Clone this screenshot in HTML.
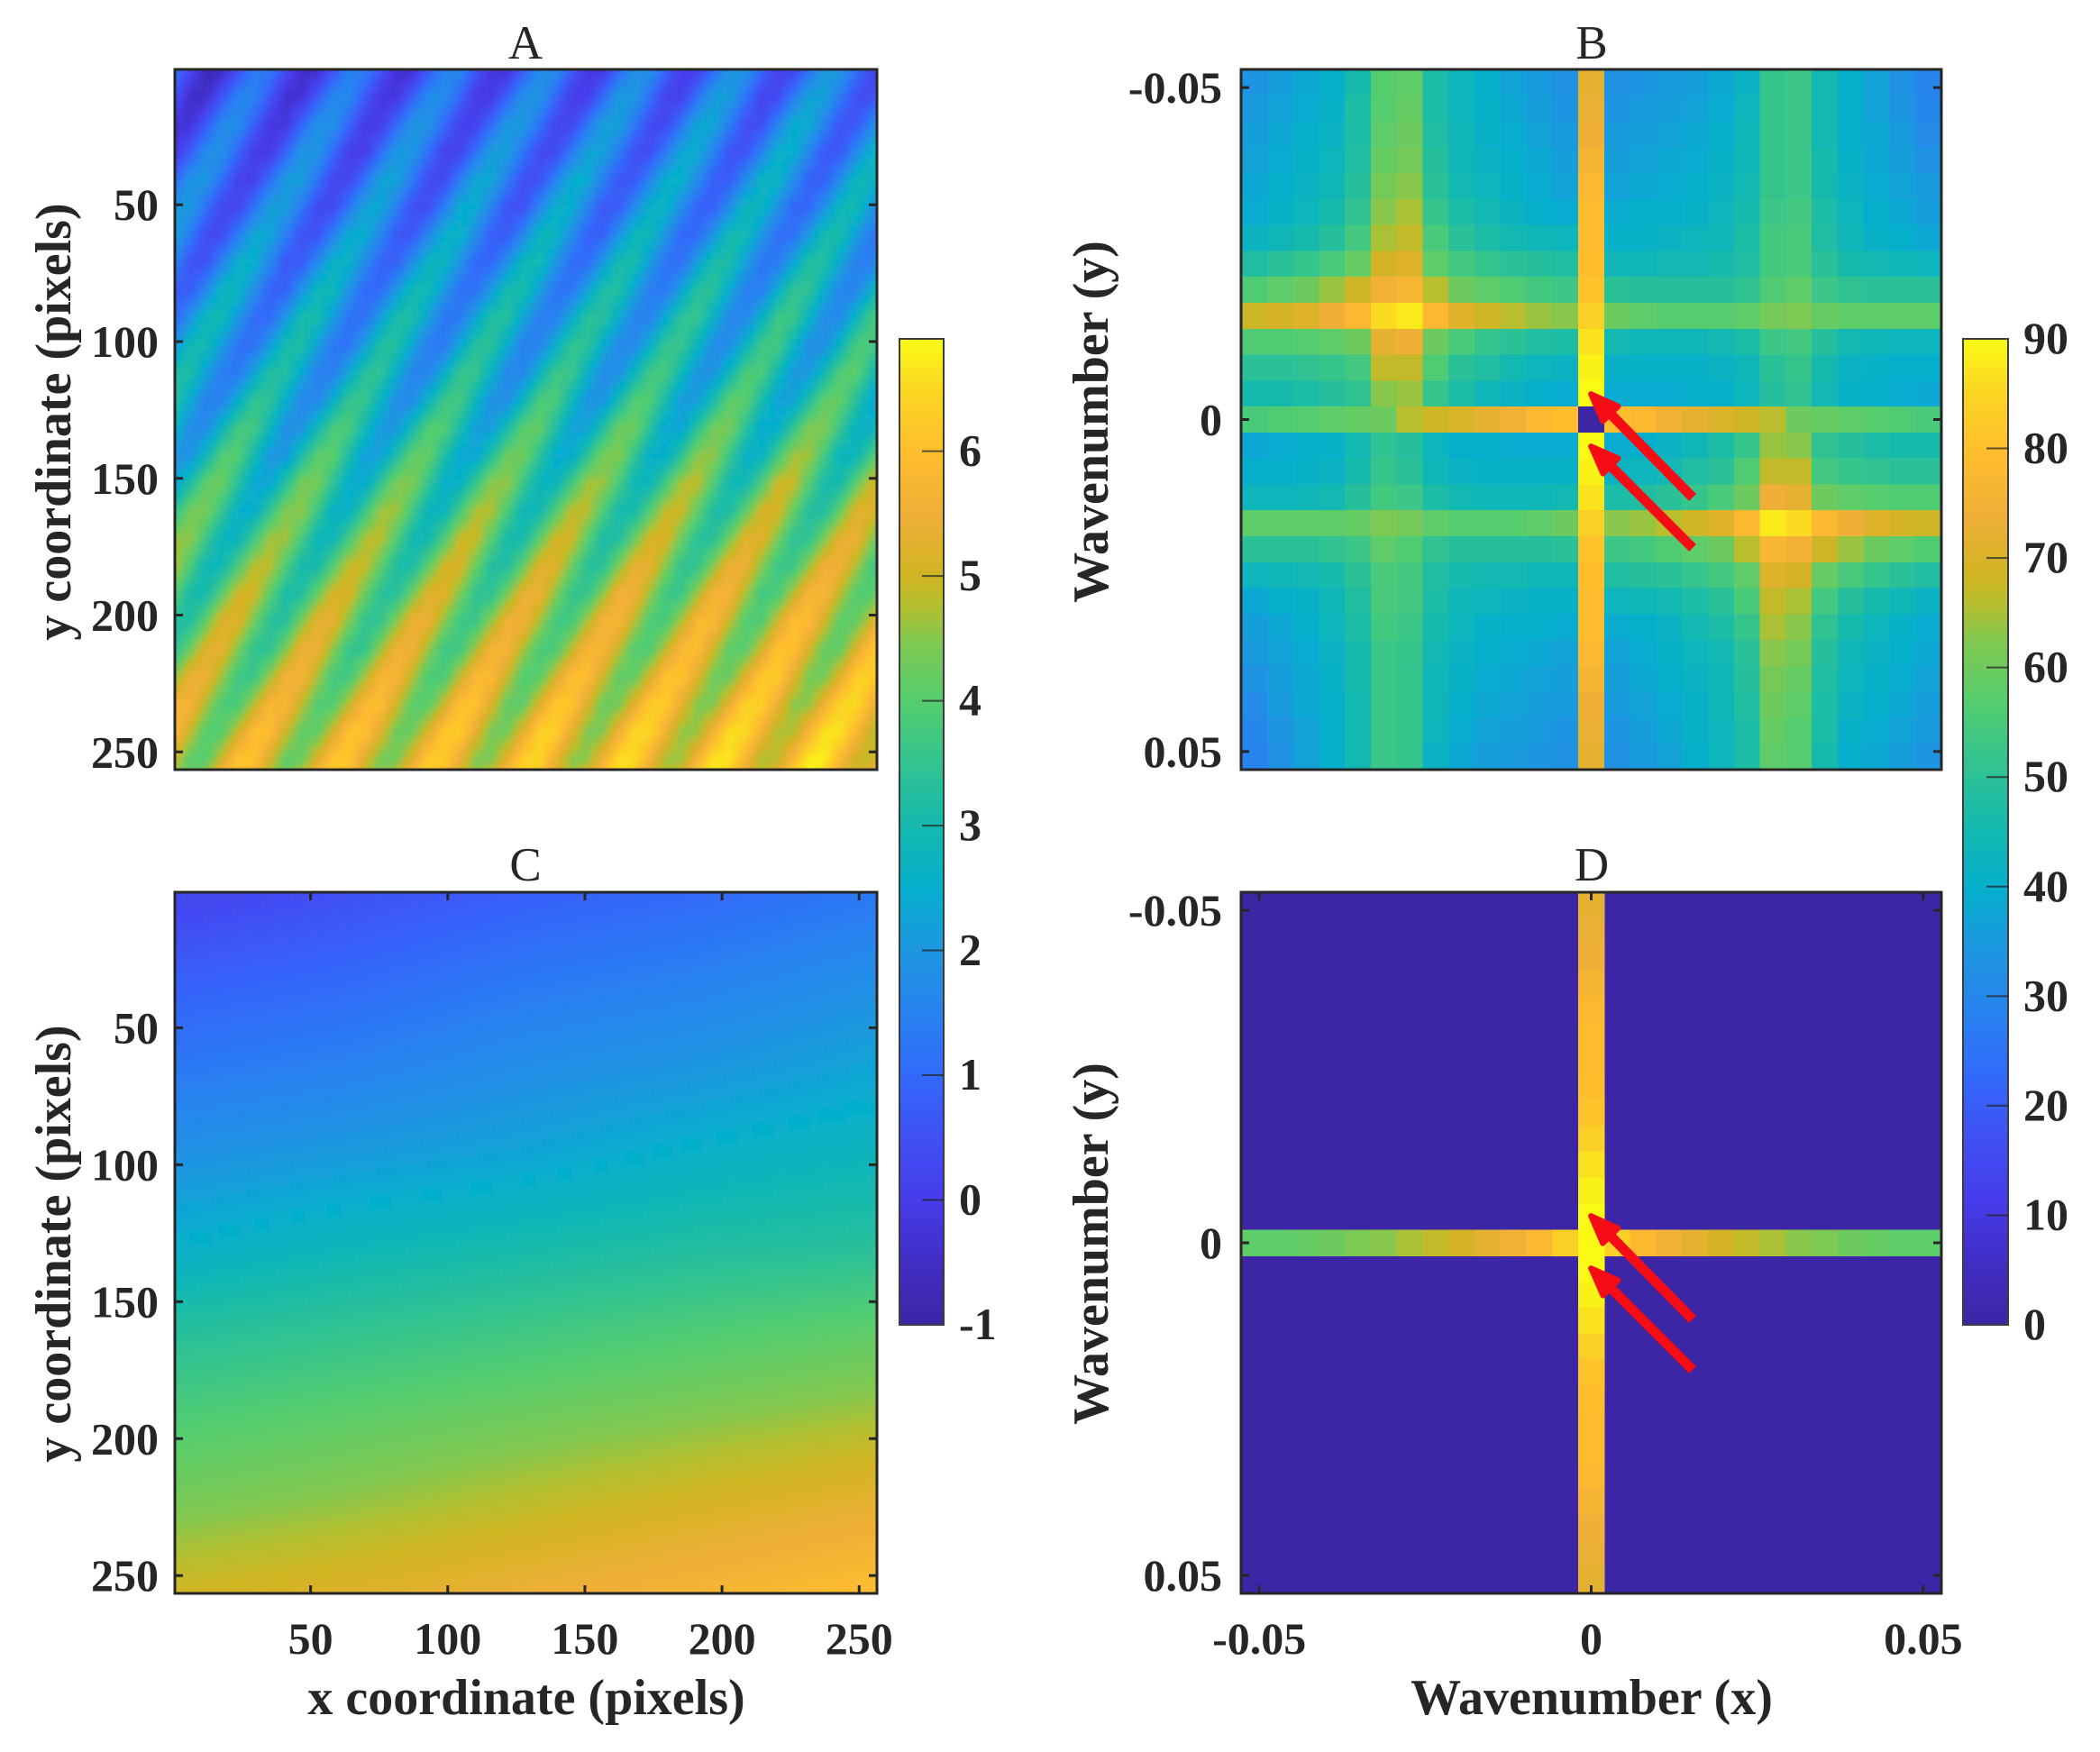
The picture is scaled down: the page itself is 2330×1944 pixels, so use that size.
<!DOCTYPE html>
<html lang="en">
<head>
<meta charset="utf-8">
<title>Spectral filtering heatmaps</title>
<style>
html,body{margin:0;padding:0;background:#fff;}
svg{display:block;}
text{font-family:"Liberation Serif",serif;fill:#262626;}
.tick{font-size:50px;font-weight:bold;}
.label{font-size:56px;font-weight:bold;}
.title{font-size:53px;font-weight:normal;text-anchor:middle;}
</style>
</head>
<body>
<svg id="figure" xmlns="http://www.w3.org/2000/svg" width="2330" height="1944" viewBox="0 0 2330 1944">
  <defs>
    <filter id="softA" filterUnits="userSpaceOnUse" x="0" y="0" width="2330" height="1944"><feGaussianBlur stdDeviation="3"/></filter>
    <filter id="softC" filterUnits="userSpaceOnUse" x="0" y="0" width="2330" height="1944"><feGaussianBlur stdDeviation="6"/></filter>
    <clipPath id="clipA"><rect x="194" y="77" width="779" height="777"/></clipPath>
    <clipPath id="clipC"><rect x="194" y="990" width="779" height="778"/></clipPath>
  </defs>
  <rect width="2330" height="1944" fill="#fff"/>
  <g id="panelA"></g>
  <g id="panelB"></g>
  <g id="panelC"></g>
  <g id="panelD"></g>
  <g id="colorbarLeft"></g>
  <g id="colorbarRight"></g>
  <g id="tickLayer"></g>
  <text class="title" x="583" y="65">A</text>
  <text class="title" x="1766" y="65">B</text>
  <text class="title" x="583" y="977">C</text>
  <text class="title" x="1766" y="977">D</text>
  <text class="label" text-anchor="middle" transform="translate(78,468) rotate(-90)">y coordinate (pixels)</text>
  <text class="label" text-anchor="middle" transform="translate(78,1380) rotate(-90)">y coordinate (pixels)</text>
  <text class="label" text-anchor="middle" transform="translate(1229,468) rotate(-90)">Wavenumber (y)</text>
  <text class="label" text-anchor="middle" transform="translate(1229,1380) rotate(-90)">Wavenumber (y)</text>
  <text class="label" text-anchor="middle" x="584" y="1902">x coordinate (pixels)</text>
  <text class="label" text-anchor="middle" x="1766" y="1902">Wavenumber (x)</text>
</svg>
<script>
// Panel A: sampled field, in tenths of a unit; rows step aRowStep image pixels, columns aColStep.
const aRowStep = 10.09;
const aColStep = 5.78;
const aTenths = [
[13,3,-7,-6,4,14,14,4,-5,-5,5,15,15,6,-4,-4,6,16,17,7,-3,-3,7,18,18,8,-2,-2,9,19,19,9,-1,0,10,20,20,10,1,1,11,21,21,12,2,2],
[5,-5,-5,6,16,16,6,-4,-3,7,17,17,7,-2,-2,8,18,18,9,-1,-1,9,19,20,10,0,0,10,21,21,11,1,1,12,22,22,12,2,3,13,23,23,13,4,4,14],
[-3,-3,7,18,18,8,-2,-2,9,19,19,9,-1,0,10,20,20,10,1,1,11,21,21,12,2,2,12,22,23,13,3,3,13,24,24,14,4,4,15,25,25,15,5,6,16,26],
[-2,8,18,19,9,-1,-1,9,20,20,10,0,0,11,21,21,11,1,2,12,22,22,12,3,3,13,23,23,14,4,4,14,24,25,15,5,5,15,26,26,16,6,6,17,27,27],
[10,20,20,11,1,1,11,21,22,12,2,2,12,23,23,13,3,3,14,24,24,14,4,5,15,25,25,15,6,6,16,26,26,17,7,7,17,27,28,18,8,8,18,29,29,19],
[21,21,11,2,2,12,22,22,13,3,3,13,23,24,14,4,4,14,25,25,15,5,5,16,26,26,16,6,7,17,27,27,17,8,8,18,28,28,19,9,9,19,29,30,20,10],
[23,13,3,4,14,24,24,14,5,5,15,25,25,16,6,6,16,26,27,17,7,7,17,28,28,18,8,8,19,29,29,19,9,10,20,30,30,20,11,11,21,31,31,22,12,12],
[15,5,5,16,26,26,16,6,7,17,27,27,17,8,8,18,28,28,19,9,9,19,29,30,20,10,10,20,31,31,21,11,11,22,32,32,22,12,13,23,33,33,23,14,14,24],
[7,7,17,28,28,18,8,8,19,29,29,19,9,10,20,30,30,20,11,11,21,31,31,22,12,12,22,32,33,23,13,13,23,34,34,24,14,14,25,35,35,25,15,16,26,36],
[9,19,29,30,20,10,10,20,31,31,21,11,11,22,32,32,22,12,13,23,33,33,23,14,14,24,34,34,25,15,15,25,35,36,26,16,16,26,37,37,27,17,17,28,38,38],
[20,30,30,21,11,11,21,31,32,22,12,12,22,33,33,23,13,13,24,34,34,24,14,15,25,35,35,25,16,16,26,36,36,27,17,17,27,37,38,28,18,18,28,39,39,29],
[32,32,22,13,13,23,33,33,24,14,14,24,34,35,25,15,15,25,36,36,26,16,16,27,37,37,27,17,18,28,38,38,28,19,19,29,39,39,30,20,20,30,40,41,31,21],
[34,24,14,15,25,35,35,25,16,16,26,36,36,27,17,17,27,37,38,28,18,18,28,39,39,29,19,19,30,40,40,30,20,21,31,41,41,31,22,22,32,42,42,33,23,23],
[27,17,17,28,38,38,28,18,19,29,39,39,29,20,20,30,40,40,31,21,21,31,41,42,32,22,22,32,43,43,33,23,23,34,44,44,34,24,25,35,45,45,35,26,26,36],
[19,19,29,40,40,30,20,20,31,41,41,31,21,22,32,42,42,32,23,23,33,43,43,34,24,24,34,44,45,35,25,25,35,46,46,36,26,26,37,47,47,37,27,28,38,48],
[22,32,42,43,33,23,23,33,44,44,34,24,24,35,45,45,35,25,26,36,46,46,36,27,27,37,47,47,38,28,28,38,48,49,39,29,29,39,50,50,40,30,30,41,51,51],
[34,44,44,35,25,25,35,45,46,36,26,26,36,47,47,37,27,27,38,48,48,38,28,29,39,49,49,39,30,30,40,50,50,41,31,31,41,51,52,42,32,32,42,53,53,43],
[46,46,36,27,27,37,47,47,38,28,28,38,48,49,39,29,29,39,50,50,40,30,30,41,51,51,41,31,32,42,52,52,42,33,33,43,53,53,44,34,34,44,54,55,45,35],
[48,38,28,29,39,49,49,39,30,30,40,50,50,41,31,31,41,51,52,42,32,32,42,53,53,43,33,33,44,54,54,44,34,35,45,55,55,45,36,36,46,56,56,47,37,37],
[40,30,30,41,51,51,41,31,32,42,52,52,42,33,33,43,53,53,44,34,34,44,54,55,45,35,35,45,56,56,46,36,36,47,57,57,47,37,38,48,58,58,48,39,39,49],
[32,32,42,53,53,43,33,33,44,54,54,44,34,35,45,55,55,45,36,36,46,56,56,47,37,37,47,57,58,48,38,38,48,59,59,49,39,39,50,60,60,50,40,41,51,61],
[33,43,53,54,44,34,34,44,55,55,45,35,35,46,56,56,46,36,37,47,57,57,47,38,38,48,58,58,49,39,39,49,59,60,50,40,40,50,61,61,51,41,41,52,62,62],
[45,55,55,46,36,36,46,56,57,47,37,37,47,58,58,48,38,38,49,59,59,49,39,40,50,60,60,50,41,41,51,61,61,52,42,42,52,62,63,53,43,43,53,64,64,54],
[57,57,47,38,38,48,58,58,49,39,39,49,59,60,50,40,40,50,61,61,51,41,41,52,62,62,52,42,43,53,63,63,53,44,44,54,64,64,55,45,45,55,65,66,56,46],
[59,49,39,40,50,60,60,50,41,41,51,61,61,52,42,42,52,62,63,53,43,43,53,64,64,54,44,44,55,65,65,55,45,46,56,66,66,56,47,47,57,67,67,58,48,48],
[50,40,40,51,61,61,51,41,42,52,62,62,52,43,43,53,63,63,54,44,44,54,64,65,55,45,45,55,66,66,56,46,46,57,67,67,57,47,48,58,68,68,58,49,49,59],
[42,42,52,63,63,53,43,43,54,64,64,54,44,45,55,65,65,55,46,46,56,66,66,57,47,47,57,67,68,58,48,48,58,69,69,59,49,49,60,70,70,60,50,51,61,71]
];
// Panel C: sampled low-frequency field; rows and columns every cRowStep / cColStep image pixels.
const cRowStep = 32;
const cColStep = 64;
const cValues = [
[0.2,0.5,0.8,1.0,1.3],
[0.8,1.0,1.3,1.5,1.8],
[1.3,1.5,1.8,2.0,2.3],
[1.9,2.1,2.3,2.6,2.8],
[2.5,2.8,3.0,3.2,3.3],
[3.3,3.5,3.7,3.9,4.1],
[3.9,4.1,4.3,4.5,4.7],
[4.4,4.6,4.85,5.1,5.35],
[5.0,5.2,5.45,5.7,6.0]
];
// Panel B: 27 x 27 spectrum cells.
const bValues = [
[34,36,38,40,46,57,58,47,43,40,37,35,33,72,33,34,35,36,38,42,52,53,45,40,37,33,29],
[35,37,39,41,47,57,59,47,43,41,38,36,34,73,34,35,36,37,39,43,52,53,45,40,37,34,30],
[36,38,40,42,47,58,60,48,44,41,39,37,35,74,35,36,37,38,40,44,52,53,45,40,38,35,31],
[37,39,41,43,48,59,61,49,44,42,40,38,36,76,36,37,38,39,41,44,52,53,46,41,38,36,33],
[38,40,42,44,49,61,63,50,45,43,41,39,37,78,37,38,39,40,42,45,52,53,46,42,39,37,35],
[39,41,43,46,51,63,65,52,47,45,42,40,39,79,39,40,40,41,43,46,53,54,47,43,40,38,36],
[42,44,46,49,54,65,67,55,50,47,45,44,43,79,41,41,42,43,44,47,54,55,48,44,41,40,38],
[48,50,52,55,59,69,71,58,54,52,50,49,48,80,44,44,45,45,46,48,54,55,50,46,45,44,43],
[56,58,60,64,68,75,77,66,60,58,56,54,53,81,50,49,49,49,49,51,56,58,53,51,50,50,50],
[68,69,71,74,78,86,88,78,71,68,66,64,63,84,60,58,57,57,57,58,61,62,59,58,58,58,58],
[56,56,57,58,60,72,74,60,55,52,50,48,47,87,45,44,44,44,45,47,53,54,49,45,44,43,43],
[50,50,51,52,54,67,67,56,50,48,45,43,42,89,41,41,41,41,42,44,50,52,46,42,41,40,40],
[46,46,47,49,51,63,64,52,47,44,42,40,39,90,39,39,39,40,40,43,49,51,45,41,40,39,38],
[55,56,57,58,59,60,66,68,70,72,75,78,80,0,80,78,75,72,70,68,66,60,59,58,57,56,55],
[38,39,40,41,45,51,49,43,40,40,39,39,39,90,39,40,42,44,47,52,64,63,51,49,47,46,46],
[40,40,41,42,46,52,50,44,42,41,41,41,41,89,42,43,45,48,50,56,67,67,54,52,51,50,50],
[43,43,44,45,49,54,53,47,45,44,44,44,45,87,47,48,50,52,55,60,74,72,60,58,57,56,56],
[58,58,58,58,59,62,61,58,57,57,57,58,60,84,63,64,66,68,71,78,88,86,78,74,71,69,68],
[50,50,50,51,53,58,56,51,49,49,49,49,50,81,53,54,56,58,60,66,77,75,68,64,60,58,56],
[43,44,45,46,50,55,54,48,46,45,45,44,44,80,48,49,50,52,54,58,71,69,59,55,52,50,48],
[38,40,41,44,48,55,54,47,44,43,42,41,41,79,43,44,45,47,50,55,67,65,54,49,46,44,42],
[36,38,40,43,47,54,53,46,43,41,40,40,39,79,39,40,42,45,47,52,65,63,51,46,43,41,39],
[35,37,39,42,46,53,52,45,42,40,39,38,37,78,37,39,41,43,45,50,63,61,49,44,42,40,38],
[33,36,38,41,46,53,52,44,41,39,38,37,36,76,36,38,40,42,44,49,61,59,48,43,41,39,37],
[31,35,38,40,45,53,52,44,40,38,37,36,35,74,35,37,39,41,44,48,60,58,47,42,40,38,36],
[30,34,37,40,45,53,52,43,39,37,36,35,34,73,34,36,38,41,43,47,59,57,47,41,39,37,35],
[29,33,37,40,45,53,52,42,38,36,35,34,33,72,33,35,37,40,43,47,58,57,46,40,38,36,34]
];
// Panel D: only the central column and row survive the filter.
const dFloor = 0;
const dCenterColumn = [72,73,74,76,78,79,79,80,81,84,87,89,90,90,90,89,87,84,81,80,79,79,78,76,74,73,72];
const dCenterRow = [58,58,59,60,62,63,65,67,69,72,75,78,84,90,84,78,75,72,69,67,65,63,62,60,59,58,58];
// Ticks and colour scales.
const pixelTicks = [50,100,150,200,250];
const waveTicks = [-0.05,0,0.05];
const waveTickLabels = ["-0.05","0","0.05"];
const leftBarTicks = [-1,0,1,2,3,4,5,6];
const rightBarTicks = [0,10,20,30,40,50,60,70,80,90];
const leftRange = [-1,6.9];
const rightRange = [0,90];
const mapStops = [
[0,60,38,165],[0.063,65,45,195],[0.127,70,60,235],[0.19,65,80,245],[0.253,50,105,250],[0.316,40,130,240],
[0.38,30,150,225],[0.443,5,175,205],[0.506,20,185,175],[0.57,50,195,145],[0.633,85,205,110],[0.696,130,200,80],
[0.727,178,192,48],[0.76,208,180,35],[0.823,240,175,55],[0.886,255,190,45],[0.95,250,215,35],[1,250,250,20]
];

const NS = "http://www.w3.org/2000/svg";
const root = id => document.getElementById(id);
function make(tag, parent, props) {
  const el = document.createElementNS(NS, tag);
  for (const k in props) el.setAttribute(k, props[k]);
  parent.appendChild(el);
  return el;
}
function mapColor(t) {
  t = Math.max(0, Math.min(1, t));
  for (let i = 1; i < mapStops.length; i++) {
    if (t <= mapStops[i][0]) {
      const a = mapStops[i - 1], b = mapStops[i], f = (t - a[0]) / (b[0] - a[0]);
      return "rgb(" + [1, 2, 3].map(c => Math.round(a[c] + (b[c] - a[c]) * f)).join(",") + ")";
    }
  }
  return "rgb(250,250,20)";
}
const spatialColor = v => mapColor((v - leftRange[0]) / (leftRange[1] - leftRange[0]));
const spectralColor = v => mapColor((v - rightRange[0]) / (rightRange[1] - rightRange[0]));

const boxes = {
  A: {x: 194, y: 77, w: 779, h: 777},
  B: {x: 1377, y: 77, w: 777, h: 777},
  C: {x: 194, y: 990, w: 779, h: 778},
  D: {x: 1377, y: 990, w: 777, h: 778}
};
// Axis functions: image pixel coordinate range 0.5..256.5, wavenumber range +-13.5/256.
const pixelX = (b, v) => b.x + (v - 0.5) * b.w / 256;
const pixelY = (b, v) => b.y + (v - 0.5) * b.h / 256;
const waveSpan = 27 / 256;
const waveX = (b, v) => b.x + b.w / 2 + v * b.w / waveSpan;
const waveY = (b, v) => b.y + b.h / 2 + v * b.h / waveSpan;

function sampleGrid(grid, rowF, colF) {
  const r = Math.max(0, Math.min(grid.length - 1, rowF));
  const c = Math.max(0, Math.min(grid[0].length - 1, colF));
  const r0 = Math.floor(r), c0 = Math.floor(c);
  const r1 = Math.min(grid.length - 1, r0 + 1), c1 = Math.min(grid[0].length - 1, c0 + 1);
  const fr = r - r0, fc = c - c0;
  return (grid[r0][c0] * (1 - fc) + grid[r0][c1] * fc) * (1 - fr) + (grid[r1][c0] * (1 - fc) + grid[r1][c1] * fc) * fr;
}
function drawSmooth(parentId, box, grid, rowStep, colStep, scale, step, clipId, filterId, name) {
  const clip = make("g", root(parentId), {"clip-path": "url(#" + clipId + ")"});
  
  
  const soft = make("g", clip, {filter: "url(#" + filterId + ")", "shape-rendering": "crispEdges"});
  
  
  for (let py = -step * 3; py < box.h + step * 3; py += step) {
    for (let px = -step * 3; px < box.w + step * 3; px += step) {
      const imgX = (px + step / 2) * 256 / box.w;
      const imgY = (py + step / 2) * 256 / box.h;
      const v = sampleGrid(grid, imgY / rowStep, imgX / colStep) * scale;
      const cell = make("rect", soft, {x: pixelX(box, imgX + 0.5) - step / 2, y: pixelY(box, imgY + 0.5) - step / 2, width: step + 0.6, height: step + 0.6, fill: spatialColor(v)});
      
      
    }
  }
}
drawSmooth("panelA", boxes.A, aTenths, aRowStep, aColStep, 0.1, 6, "clipA", "softA", "panel-a");
drawSmooth("panelC", boxes.C, cValues, cRowStep, cColStep, 1, 8, "clipC", "softC", "panel-c");

function drawSpectrumCell(parent, box, row, col, value, name) {
  const binX = box.w / 27, binY = box.h / 27;
  const cell = make("rect", parent, {x: box.x + col * binX, y: box.y + row * binY, width: binX + 0.5, height: binY + 0.5, fill: spectralColor(value), "shape-rendering": "crispEdges"});
  
  
}
bValues.forEach((rowVals, r) => rowVals.forEach((v, c) => drawSpectrumCell(root("panelB"), boxes.B, r, c, v, 'panel-b-cell')));
const dBack = make("rect", root("panelD"), {x: boxes.D.x, y: boxes.D.y, width: boxes.D.w, height: boxes.D.h, fill: spectralColor(dFloor)});


dCenterRow.forEach((v, c) => drawSpectrumCell(root("panelD"), boxes.D, 13, c, v, 'panel-d-row-cell'));
dCenterColumn.forEach((v, r) => drawSpectrumCell(root("panelD"), boxes.D, r, 13, v, 'panel-d-column-cell'));

// Arrows (annotation).
const arrowTips = [[1763, 435], [1763, 493]];
const arrowTails = [[1878, 552], [1878, 608]];
function drawArrows(parentId, dy, name) {
  arrowTips.forEach((tip, i) => {
    const tail = arrowTails[i];
    const tx = tip[0], ty = tip[1] + dy, ex = tail[0], ey = tail[1] + dy;
    const len = Math.hypot(ex - tx, ey - ty), ux = (ex - tx) / len, uy = (ey - ty) / len;
    const nx = -uy, ny = ux;
    const bx = tx + ux * 34, by = ty + uy * 34;
    const shaft = make("line", root(parentId), {x1: bx, y1: by, x2: ex, y2: ey, stroke: "#f40d14", "stroke-width": 11});
    
    
    const head = make("polygon", root(parentId), {
      points: [[tx + ux * 3, ty + uy * 3], [bx + nx * 12, by + ny * 12], [bx - nx * 12, by - ny * 12]].map(p => p.join(",")).join(" "),
      fill: "#f40d14", stroke: "#f40d14", "stroke-width": 6, "stroke-linejoin": "round"});
    
    
  });
}
drawArrows("panelB", 0, 'panel-b');
drawArrows("panelD", 912, 'panel-d');

// Colour bars.
function drawBar(parentId, x, y, w, h, colorFn, range, ticks, labelX, name) {
  const g = root(parentId);
  const span = range[1] - range[0];
  const barY = v => y + h - (v - range[0]) * h / span;
  const strips = 200;
  for (let i = 0; i < strips; i++) {
    const v = range[0] + (i + 0.5) * span / strips;
    const strip = make("rect", g, {x: x, y: barY(range[0] + (i + 1) * span / strips), width: w, height: h / strips + 0.7, fill: colorFn(v), "shape-rendering": "crispEdges"});
    
    
  }
  const frame = make("rect", g, {x: x, y: y, width: w, height: h, fill: "none", stroke: "#3c3c3c", "stroke-width": 2});
  
  
  ticks.forEach(t => {
    const ty = barY(t);
    if (t !== range[0] && t !== range[1]) {
      const mark = make("line", g, {x1: x + w - 24, x2: x + w, y1: ty, y2: ty, stroke: "#262626", "stroke-opacity": 0.75, "stroke-width": 2});
      
      
    }
    const label = make("text", g, {class: "tick", x: labelX, y: ty + 16});
    label.textContent = String(t);
    
    
  });
}
drawBar("colorbarLeft", 998, 376, 49, 1094, spatialColor, leftRange, leftBarTicks, 1064, 'colorbar-spatial');
drawBar("colorbarRight", 2178, 376, 50, 1094, spectralColor, rightRange, rightBarTicks, 2245, 'colorbar-spectral');

// Frames, ticks and tick labels.
const ticks = root("tickLayer");
function frame(b, name) {
  const f = make("rect", ticks, {x: b.x, y: b.y, width: b.w, height: b.h, fill: "none", stroke: "#262626", "stroke-width": 3});
  
  
}
function yTicks(b, values, scale, labels, labelX, name) {
  values.forEach((v, i) => {
    const py = scale(b, v);
    [[b.x, b.x + 9], [b.x + b.w, b.x + b.w - 9]].forEach(pair => {
      const m = make("line", ticks, {x1: pair[0], x2: pair[1], y1: py, y2: py, stroke: "#262626", "stroke-width": 3});
      
      
    });
    const t = make("text", ticks, {class: "tick", x: labelX, y: py + 17, "text-anchor": "end"});
    t.textContent = labels[i];
    
    
  });
}
function xTicks(b, values, scale, labels, name) {
  values.forEach((v, i) => {
    const px = scale(b, v);
    [[b.y, b.y + 9], [b.y + b.h, b.y + b.h - 9]].forEach(pair => {
      const m = make("line", ticks, {x1: px, x2: px, y1: pair[0], y2: pair[1], stroke: "#262626", "stroke-width": 3});
      
      
    });
    const t = make("text", ticks, {class: "tick", x: px, y: 1835, "text-anchor": "middle"});
    t.textContent = labels[i];
    
    
  });
}
frame(boxes.A, 'panel-a');
frame(boxes.B, 'panel-b');
frame(boxes.C, 'panel-c');
frame(boxes.D, 'panel-d');
const pixelLabels = pixelTicks.map(String);
yTicks(boxes.A, pixelTicks, pixelY, pixelLabels, 176, 'panel-a');
yTicks(boxes.C, pixelTicks, pixelY, pixelLabels, 176, 'panel-c');
xTicks(boxes.C, pixelTicks, pixelX, pixelLabels, 'panel-c');
yTicks(boxes.B, waveTicks, waveY, waveTickLabels, 1356, 'panel-b');
yTicks(boxes.D, waveTicks, waveY, waveTickLabels, 1356, 'panel-d');
xTicks(boxes.D, waveTicks, waveX, waveTickLabels, 'panel-d');
</script>
</body>
</html>
